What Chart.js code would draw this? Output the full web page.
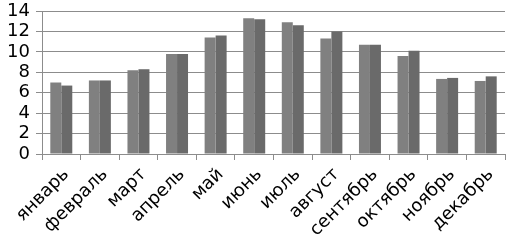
<!DOCTYPE html>
<html><head><meta charset="utf-8">
<script src="https://cdn.jsdelivr.net/npm/chart.js@4/dist/chart.umd.min.js"></script>
<style>html,body{margin:0;padding:0;background:#fff}#w{width:507px;height:245px}</style>
</head><body><div id="w"><canvas id="c"></canvas></div>
<script>
const categories = ['январь','февраль','март','апрель','май','июнь','июль','август','сентябрь','октябрь','ноябрь','декабрь'];
const series1 = [7.0, 7.2, 8.2, 9.8, 11.4, 13.3, 12.9, 11.3, 10.7, 9.6, 7.35, 7.15];
const series2 = [6.7, 7.2, 8.3, 9.8, 11.6, 13.2, 12.6, 12.0, 10.7, 10.1, 7.45, 7.6];
const yStep = 2;

new Chart(document.getElementById('c'), {
  type: 'bar',
  data: {
    labels: categories,
    datasets: [
      {data: series1, backgroundColor: '#808080', borderWidth: 0},
      {data: series2, backgroundColor: '#6a6a6a', borderWidth: 0}
    ]
  },
  options: {
    responsive: true, maintainAspectRatio: false, animation: false,
    layout: {padding: {top: 11, right: 2, left: 0, bottom: 0}},
    plugins: {legend: {display: false}, tooltip: {enabled: false}},
    datasets: {bar: {barPercentage: 1, categoryPercentage: 0.57}},
    scales: {
      x: {
        grid: {offset: true, drawOnChartArea: false, drawTicks: true, tickLength: 6, color: '#8c8c8c'},
        border: {color: '#8c8c8c'},
        ticks: {maxRotation: 45, minRotation: 45, color: '#000', padding: 4, autoSkip: false, labelOffset: 5,
                font: {family: 'DejaVu Sans', size: 18}},
        afterFit: s => { s.height = 91; s.paddingLeft = 0; s.paddingRight = 0; }
      },
      y: {
        min: 0, max: 14,
        grid: {color: '#8c8c8c', tickLength: 6},
        border: {color: '#8c8c8c'},
        ticks: {color: '#000', padding: 6, stepSize: yStep, autoSkip: false,
                font: {family: 'DejaVu Sans', size: 18}},
        afterFit: s => { s.width = 42; s.paddingTop = 0; s.paddingBottom = 0; }
      }
    }
  }
});
</script></body></html>
